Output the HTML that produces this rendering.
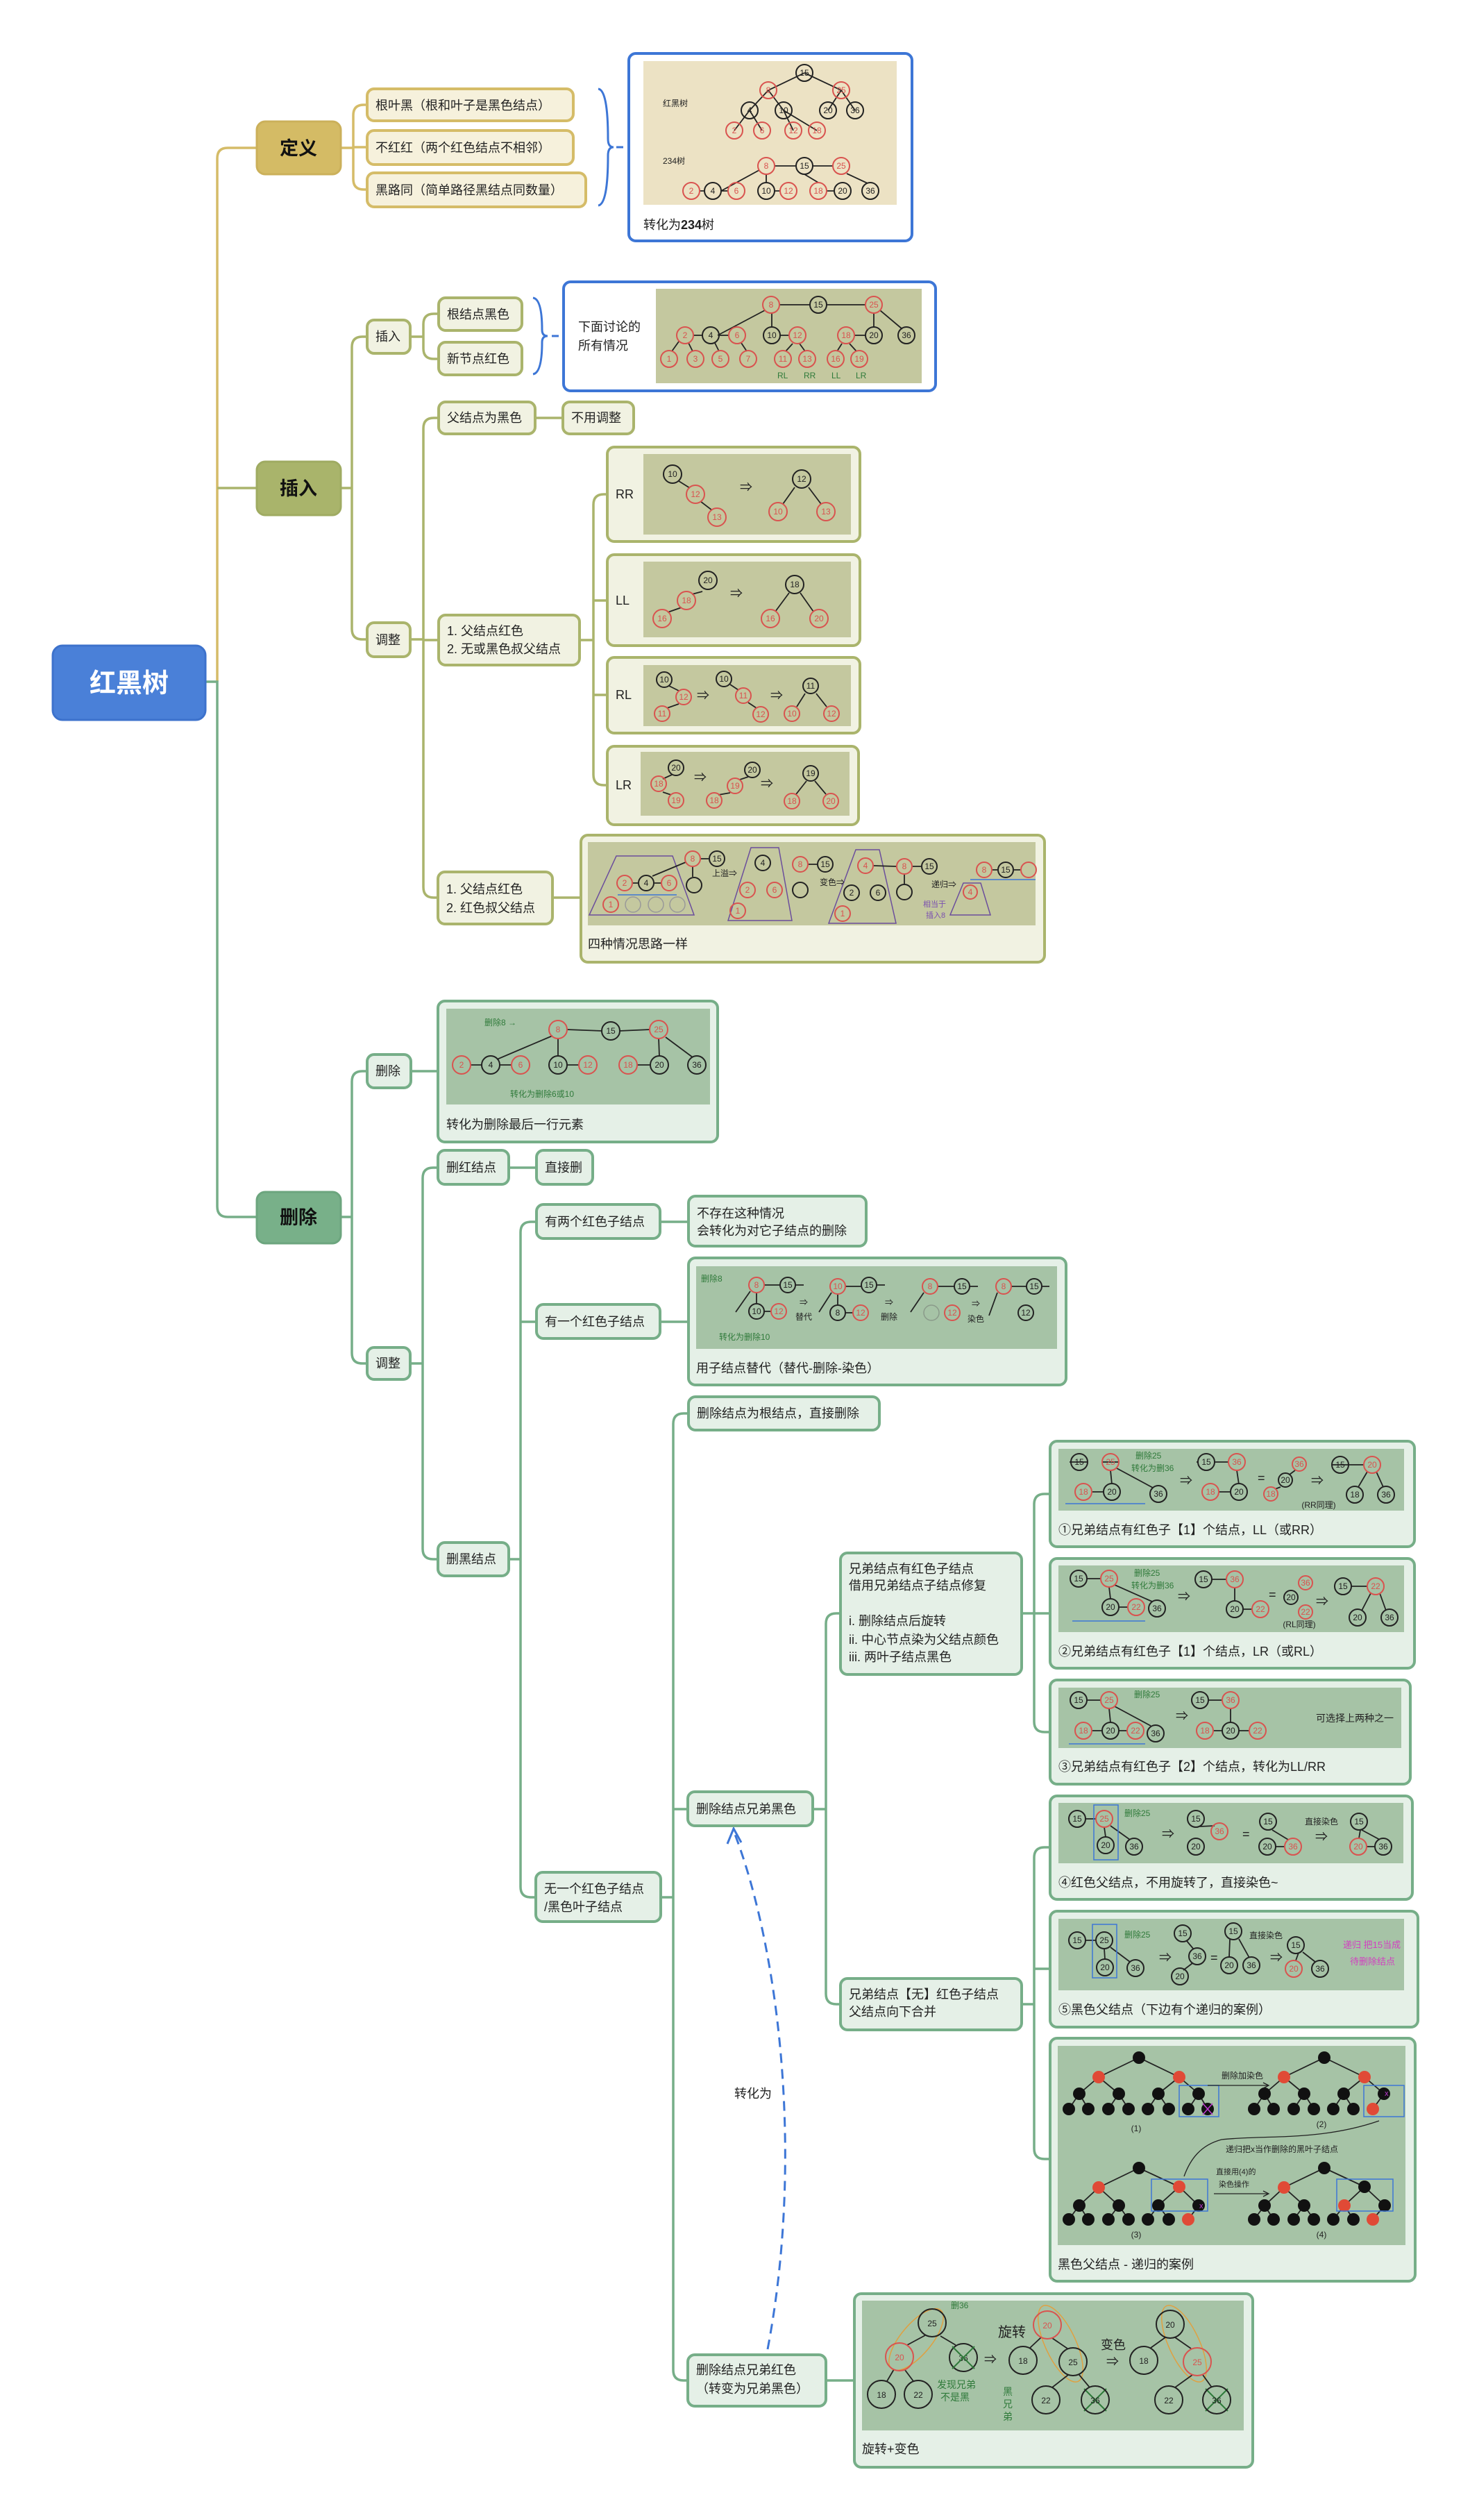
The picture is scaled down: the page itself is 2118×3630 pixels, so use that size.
<!DOCTYPE html>
<html><head><meta charset="utf-8">
<style>
html,body{margin:0;padding:0;background:#fff;}
svg{display:block;font-family:"Liberation Sans","Noto Sans CJK SC",sans-serif;}
.cy{fill:none;stroke:#d5bc68;stroke-width:3.5}
.co{fill:none;stroke:#aab46c;stroke-width:3.5}
.cg{fill:none;stroke:#76ae88;stroke-width:3.5}
.by{fill:#f6f1dc;stroke:#d5bc68;stroke-width:4}
.bo{fill:#f1f2e2;stroke:#aab46c;stroke-width:4}
.bg{fill:#e5f0e7;stroke:#76ae88;stroke-width:4}
.bb{fill:#fff;stroke:#3d76d6;stroke-width:4}
.l{font-size:18px;fill:#222}
.m{font-size:27px;font-weight:bold;fill:#111;text-anchor:middle}
.k{fill:none;stroke:#222;stroke-width:2}
.r{fill:none;stroke:#d9534f;stroke-width:2}
.n{font-size:12px;fill:#222;text-anchor:middle}
.nr{font-size:12px;fill:#d9534f;text-anchor:middle}
.e{stroke:#222;stroke-width:1.8;fill:none}
.gt{font-size:12px;fill:#2f7a3a}
.ar{font-size:18px;fill:#222}
.fk{fill:#111}
.fr{fill:#e04a36}
.bl{fill:none;stroke:#3d76d6;stroke-width:1.5}
</style></head><body>
<svg width="2118" height="3630" viewBox="0 0 2118 3630" xmlns="http://www.w3.org/2000/svg">
<!-- connectors -->
<path class="cy" d="M313,982 L313,228 Q313,213 328,213 L370,213"/>
<path class="co" d="M313,703 L370,703"/>
<path class="cg" d="M296,982 L313,982 L313,1738 Q313,1753 328,1753 L370,1753"/>
<path class="cy" d="M491,213 L509,213 M529,151 L524,151 Q509,151 509,166 L509,258 Q509,273 524,273 L529,273 M509,212 L529,212"/>
<path fill="none" stroke="#3d76d6" stroke-width="3" d="M862,128 Q876,130 876,200 Q876,212 884,212 Q876,212 876,224 Q876,294 862,296 M888,212 L898,212"/>
<path class="co" d="M491,703 L507,703 M529,485 L522,485 Q507,485 507,500 L507,906 Q507,921 522,921 L529,921"/>
<path class="co" d="M591,485 L610,485 M632,452 L625,452 Q610,452 610,467 L610,502 Q610,517 625,517 L632,517"/>
<path fill="none" stroke="#3d76d6" stroke-width="3" d="M768,429 Q781,431 781,475 Q781,484 789,484 Q781,484 781,493 Q781,537 768,539 M795,484 L805,484"/>
<path class="co" d="M591,921 L610,921 M632,602 L625,602 Q610,602 610,617 L610,1278 Q610,1293 625,1293 L631,1293 M610,922 L632,922 M771,602 L811,602"/>
<path class="co" d="M835,922 L855,922 M875,712 L870,712 Q855,712 855,727 L855,1116 Q855,1131 870,1131 L875,1131 M855,865 L875,865 M855,1001 L875,1001 M796,1293 L837,1293"/>
<path class="cg" d="M491,1753 L507,1753 M529,1543 L522,1543 Q507,1543 507,1558 L507,1949 Q507,1964 522,1964 L529,1964 M592,1543 L631,1543"/>
<path class="cg" d="M591,1964 L609,1964 M631,1682 L624,1682 Q609,1682 609,1697 L609,2231 Q609,2246 624,2246 L631,2246 M733,1682 L773,1682"/>
<path class="cg" d="M733,2246 L750,2246 M773,1760 L765,1760 Q750,1760 750,1775 L750,2718 Q750,2733 765,2733 L772,2733 M750,1904 L773,1904 M951,1760 L992,1760 M951,1904 L992,1904"/>
<path class="cg" d="M952,2733 L970,2733 M992,2036 L985,2036 Q970,2036 970,2051 L970,3414 Q970,3429 985,3429 L991,3429 M970,2606 L991,2606"/>
<path class="cg" d="M1171,2606 L1190,2606 M1211,2324 L1205,2324 Q1190,2324 1190,2339 L1190,2872 Q1190,2887 1205,2887 L1211,2887 M1190,3429 L1231,3429"/>
<path class="cg" d="M1472,2324 L1490,2324 M1513,2152 L1505,2152 Q1490,2152 1490,2167 L1490,2480 Q1490,2495 1505,2495 L1513,2495 M1490,2324 L1513,2324"/>
<path class="cg" d="M1472,2887 L1490,2887 M1513,2661 L1505,2661 Q1490,2661 1490,2676 L1490,3095 Q1490,3110 1505,3110 L1513,3110 M1490,2836 L1513,2836"/>
<!-- dashed -->
<path d="M1106,3384 C1160,3100 1120,2800 1058,2640" fill="none" stroke="#3d76d6" stroke-width="3" stroke-dasharray="14,9"/>
<path d="M1048,2656 L1057,2634 L1068,2654" fill="none" stroke="#3d76d6" stroke-width="3"/>
<text x="1058" y="3022" class="l">转化为</text>

<!-- root & main -->
<rect x="76" y="930" width="220" height="107" rx="14" fill="#4a80d8" stroke="#3d72cc" stroke-width="3"/>
<text x="186" y="997" font-size="38" font-weight="bold" fill="#fff" text-anchor="middle">红黑树</text>
<rect x="370" y="175" width="121" height="76" rx="12" fill="#d4bb65" stroke="#cbb05a" stroke-width="3"/>
<text x="430" y="223" class="m">定义</text>
<rect x="370" y="665" width="121" height="77" rx="12" fill="#a9b46b" stroke="#9fab62" stroke-width="3"/>
<text x="430" y="713" class="m">插入</text>
<rect x="370" y="1717" width="121" height="74" rx="12" fill="#78b089" stroke="#6ca57e" stroke-width="3"/>
<text x="430" y="1763" class="m">删除</text>

<!-- define -->
<rect class="by" x="529" y="128" width="297" height="46" rx="10"/><text class="l" x="541" y="158">根叶黑（根和叶子是黑色结点）</text>
<rect class="by" x="529" y="188" width="297" height="49" rx="10"/><text class="l" x="541" y="219">不红红（两个红色结点不相邻）</text>
<rect class="by" x="529" y="249" width="315" height="49" rx="10"/><text class="l" x="541" y="280">黑路同（简单路径黑结点同数量）</text>
<rect class="bb" x="906" y="77" width="408" height="270" rx="10"/>
<rect x="927" y="88" width="365" height="207" fill="#ece2c4"/>
<text x="927" y="330" class="l">转化为<tspan font-weight="bold">234</tspan>树</text>
<text x="955" y="153" class="n" text-anchor="start" style="text-anchor:start">红黑树</text>
<text x="955" y="236" class="n" style="text-anchor:start">234树</text>
<g>
<path class="e" d="M1159,105 L1107,130 M1159,105 L1212,130 M1107,130 L1080,159 M1107,130 L1129,159 M1212,130 L1193,159 M1212,130 L1232,159 M1080,159 L1058,188 M1080,159 L1098,188 M1129,159 L1143,188 M1129,159 L1177,188"/>
<circle class="k" cx="1159" cy="105" r="12" fill="#ece2c4"/><text class="n" x="1159" y="109">15</text>
<circle class="r" cx="1107" cy="130" r="12"/><text class="nr" x="1107" y="134">8</text>
<circle class="r" cx="1212" cy="130" r="12"/><text class="nr" x="1212" y="134">25</text>
<circle class="k" cx="1080" cy="159" r="12"/><text class="n" x="1080" y="163">4</text>
<circle class="k" cx="1129" cy="159" r="12"/><text class="n" x="1129" y="163">10</text>
<circle class="k" cx="1193" cy="159" r="12"/><text class="n" x="1193" y="163">20</text>
<circle class="k" cx="1232" cy="159" r="12"/><text class="n" x="1232" y="163">36</text>
<circle class="r" cx="1058" cy="188" r="12"/><text class="nr" x="1058" y="192">2</text>
<circle class="r" cx="1098" cy="188" r="12"/><text class="nr" x="1098" y="192">6</text>
<circle class="r" cx="1143" cy="188" r="12"/><text class="nr" x="1143" y="192">12</text>
<circle class="r" cx="1177" cy="188" r="12"/><text class="nr" x="1177" y="192">18</text>
<path class="e" d="M1116,239 L1147,239 M1171,239 L1200,239 M1094,245 L1039,275 M1104,251 L1104,263 M1159,251 L1179,263 M1220,250 L1250,264 M1008,275 L1015,275 M1039,275 L1049,275 M1116,275 L1124,275 M1191,275 L1202,275"/>
<circle class="r" cx="1104" cy="239" r="12"/><text class="nr" x="1104" y="243">8</text>
<circle class="k" cx="1159" cy="239" r="12"/><text class="n" x="1159" y="243">15</text>
<circle class="r" cx="1212" cy="239" r="12"/><text class="nr" x="1212" y="243">25</text>
<circle class="r" cx="996" cy="275" r="12"/><text class="nr" x="996" y="279">2</text>
<circle class="k" cx="1027" cy="275" r="12"/><text class="n" x="1027" y="279">4</text>
<circle class="r" cx="1061" cy="275" r="12"/><text class="nr" x="1061" y="279">6</text>
<circle class="k" cx="1104" cy="275" r="12"/><text class="n" x="1104" y="279">10</text>
<circle class="r" cx="1136" cy="275" r="12"/><text class="nr" x="1136" y="279">12</text>
<circle class="r" cx="1179" cy="275" r="12"/><text class="nr" x="1179" y="279">18</text>
<circle class="k" cx="1214" cy="275" r="12"/><text class="n" x="1214" y="279">20</text>
<circle class="k" cx="1254" cy="275" r="12"/><text class="n" x="1254" y="279">36</text>
</g>

<!-- insert -->
<rect class="bo" x="529" y="461" width="62" height="48" rx="10"/><text class="l" x="541" y="491">插入</text>
<rect class="bo" x="529" y="897" width="62" height="49" rx="10"/><text class="l" x="541" y="928">调整</text>
<rect class="bo" x="632" y="429" width="120" height="47" rx="10"/><text class="l" x="644" y="459">根结点黑色</text>
<rect class="bo" x="632" y="493" width="120" height="47" rx="10"/><text class="l" x="644" y="523">新节点红色</text>
<rect class="bb" x="812" y="406" width="536" height="157" rx="10"/>
<rect x="945" y="416" width="383" height="136" fill="#c4c89f"/>
<text class="l" x="833" y="477">下面讨论的</text><text class="l" x="833" y="504">所有情况</text>
<g>
<path class="e" d="M1123,439 L1167,439 M1191,439 L1247,439 M1102,447 L1034,483 M1112,451 L1112,471 M1259,451 L1259,471 M1268,447 L1300,474 M999,483 L1012,483 M1036,483 L1050,483 M1124,483 L1137,483 M1231,483 L1247,483 M978,492 L968,506 M992,494 L998,506 M1030,494 L1036,506 M1068,494 L1076,506 M1142,495 L1132,506 M1152,495 L1160,506 M1213,495 L1206,506 M1224,495 L1234,506"/>
<circle class="r" cx="1111" cy="439" r="12"/><text class="nr" x="1111" y="443">8</text>
<circle class="k" cx="1179" cy="439" r="12"/><text class="n" x="1179" y="443">15</text>
<circle class="r" cx="1259" cy="439" r="12"/><text class="nr" x="1259" y="443">25</text>
<circle class="r" cx="987" cy="483" r="12"/><text class="nr" x="987" y="487">2</text>
<circle class="k" cx="1024" cy="483" r="12"/><text class="n" x="1024" y="487">4</text>
<circle class="r" cx="1062" cy="483" r="12"/><text class="nr" x="1062" y="487">6</text>
<circle class="k" cx="1112" cy="483" r="12"/><text class="n" x="1112" y="487">10</text>
<circle class="r" cx="1149" cy="483" r="12"/><text class="nr" x="1149" y="487">12</text>
<circle class="r" cx="1219" cy="483" r="12"/><text class="nr" x="1219" y="487">18</text>
<circle class="k" cx="1259" cy="483" r="12"/><text class="n" x="1259" y="487">20</text>
<circle class="k" cx="1306" cy="483" r="12"/><text class="n" x="1306" y="487">36</text>
<circle class="r" cx="964" cy="517" r="12"/><text class="nr" x="964" y="521">1</text>
<circle class="r" cx="1002" cy="517" r="12"/><text class="nr" x="1002" y="521">3</text>
<circle class="r" cx="1038" cy="517" r="12"/><text class="nr" x="1038" y="521">5</text>
<circle class="r" cx="1078" cy="517" r="12"/><text class="nr" x="1078" y="521">7</text>
<circle class="r" cx="1128" cy="517" r="12"/><text class="nr" x="1128" y="521">11</text>
<circle class="r" cx="1163" cy="517" r="12"/><text class="nr" x="1163" y="521">13</text>
<circle class="r" cx="1204" cy="517" r="12"/><text class="nr" x="1204" y="521">16</text>
<circle class="r" cx="1238" cy="517" r="12"/><text class="nr" x="1238" y="521">19</text>
<text class="gt" x="1120" y="545">RL</text><text class="gt" x="1158" y="545">RR</text><text class="gt" x="1198" y="545">LL</text><text class="gt" x="1233" y="545">LR</text>
</g>
<rect class="bo" x="632" y="579" width="139" height="46" rx="10"/><text class="l" x="644" y="608">父结点为黑色</text>
<rect class="bo" x="811" y="579" width="102" height="46" rx="10"/><text class="l" x="823" y="608">不用调整</text>
<rect class="bo" x="632" y="886" width="203" height="72" rx="10"/><text class="l" x="644" y="915">1. 父结点红色</text><text class="l" x="644" y="941">2. 无或黑色叔父结点</text>
<rect class="bo" x="875" y="644" width="364" height="136" rx="10"/><rect x="927" y="654" width="299" height="116" fill="#c4c89f"/><text class="l" x="887" y="718">RR</text>
<rect class="bo" x="875" y="799" width="364" height="131" rx="10"/><rect x="927" y="809" width="299" height="109" fill="#c4c89f"/><text class="l" x="887" y="871">LL</text>
<rect class="bo" x="875" y="947" width="364" height="109" rx="10"/><rect x="927" y="958" width="299" height="88" fill="#c4c89f"/><text class="l" x="887" y="1007">RL</text>
<rect class="bo" x="875" y="1075" width="362" height="113" rx="10"/><rect x="923" y="1083" width="301" height="92" fill="#c4c89f"/><text class="l" x="887" y="1137">LR</text>
<g>
<path class="e" d="M978,693 L994,703 M1009,722 L1026,735 M1145,702 L1128,726 M1165,702 L1183,726 M1012,852 L997,856 M982,875 L962,882 M1137,854 L1117,881 M1153,854 L1172,881 M964,988 L978,995 M978,1014 L961,1020 M1052,986 L1064,994 M1078,1012 L1090,1020 M1160,999 L1148,1018 M1176,999 L1191,1018 M968,1116 L955,1122 M955,1141 L967,1145 M1078,1119 L1066,1123 M1052,1142 L1035,1145 M1162,1125 L1147,1144 M1174,1125 L1190,1144"/>
<circle class="k" cx="969" cy="683" r="13"/><text class="n" x="969" y="687">10</text>
<circle class="r" cx="1002" cy="712" r="13"/><text class="nr" x="1002" y="716">12</text>
<circle class="r" cx="1033" cy="745" r="13"/><text class="nr" x="1033" y="749">13</text>
<text class="ar" x="1066" y="708">⇒</text>
<circle class="k" cx="1155" cy="690" r="13"/><text class="n" x="1155" y="694">12</text>
<circle class="r" cx="1121" cy="737" r="13"/><text class="nr" x="1121" y="741">10</text>
<circle class="r" cx="1190" cy="737" r="13"/><text class="nr" x="1190" y="741">13</text>
<circle class="k" cx="1020" cy="836" r="13"/><text class="n" x="1020" y="840">20</text>
<circle class="r" cx="989" cy="865" r="13"/><text class="nr" x="989" y="869">18</text>
<circle class="r" cx="954" cy="891" r="13"/><text class="nr" x="954" y="895">16</text>
<text class="ar" x="1052" y="861">⇒</text>
<circle class="k" cx="1145" cy="842" r="13"/><text class="n" x="1145" y="846">18</text>
<circle class="r" cx="1110" cy="891" r="13"/><text class="nr" x="1110" y="895">16</text>
<circle class="r" cx="1180" cy="891" r="13"/><text class="nr" x="1180" y="895">20</text>
<circle class="k" cx="957" cy="979" r="11"/><text class="n" x="957" y="983">10</text>
<circle class="r" cx="985" cy="1004" r="11"/><text class="nr" x="985" y="1008">12</text>
<circle class="r" cx="954" cy="1028" r="11"/><text class="nr" x="954" y="1032">11</text>
<text class="ar" x="1004" y="1008">⇒</text>
<circle class="k" cx="1043" cy="978" r="11"/><text class="n" x="1043" y="982">10</text>
<circle class="r" cx="1071" cy="1002" r="11"/><text class="nr" x="1071" y="1006">11</text>
<circle class="r" cx="1096" cy="1029" r="11"/><text class="nr" x="1096" y="1033">12</text>
<text class="ar" x="1110" y="1008">⇒</text>
<circle class="k" cx="1168" cy="988" r="11"/><text class="n" x="1168" y="992">11</text>
<circle class="r" cx="1141" cy="1028" r="11"/><text class="nr" x="1141" y="1032">10</text>
<circle class="r" cx="1198" cy="1028" r="11"/><text class="nr" x="1198" y="1032">12</text>
<circle class="k" cx="974" cy="1106" r="11"/><text class="n" x="974" y="1110">20</text>
<circle class="r" cx="949" cy="1129" r="11"/><text class="nr" x="949" y="1133">18</text>
<circle class="r" cx="974" cy="1153" r="11"/><text class="nr" x="974" y="1157">19</text>
<text class="ar" x="1000" y="1126">⇒</text>
<circle class="k" cx="1084" cy="1109" r="11"/><text class="n" x="1084" y="1113">20</text>
<circle class="r" cx="1059" cy="1132" r="11"/><text class="nr" x="1059" y="1136">19</text>
<circle class="r" cx="1029" cy="1153" r="11"/><text class="nr" x="1029" y="1157">18</text>
<text class="ar" x="1096" y="1135">⇒</text>
<circle class="k" cx="1168" cy="1114" r="11"/><text class="n" x="1168" y="1118">19</text>
<circle class="r" cx="1141" cy="1154" r="11"/><text class="nr" x="1141" y="1158">18</text>
<circle class="r" cx="1197" cy="1154" r="11"/><text class="nr" x="1197" y="1158">20</text>
</g>
<rect class="bo" x="631" y="1256" width="165" height="75" rx="10"/><text class="l" x="643" y="1287">1. 父结点红色</text><text class="l" x="643" y="1314">2. 红色叔父结点</text>
<rect class="bo" x="837" y="1203" width="668" height="183" rx="10"/>
<rect x="847" y="1213" width="645" height="120" fill="#c4c89f"/>
<text class="l" x="847" y="1366">四种情况思路一样</text>
<g>
<path fill="none" stroke="#6b4e9c" stroke-width="1.5" d="M888,1233 L969,1233 L1000,1318 L849,1318 Z M1082,1221 L1122,1221 L1141,1326 L1049,1326 Z M1233,1224 L1267,1224 L1291,1330 L1194,1330 Z M1388,1272 L1413,1272 L1427,1318 L1369,1318 Z"/>
<path class="bl" d="M890,1289 L975,1289 M1398,1267 L1492,1267"/>
<path class="e" d="M912,1272 L919,1272 M943,1272 L952,1272 M940,1262 L988,1242 M1010,1237 L1021,1237 M998,1249 L998,1263 M1165,1245 L1177,1245 M1315,1248 L1327,1248 M1259,1247 L1291,1248 M1303,1260 L1303,1273 M1430,1253 L1437,1253 M1461,1253 L1470,1253"/>
<circle class="r" cx="900" cy="1272" r="11"/><text class="nr" x="900" y="1276">2</text>
<circle class="k" cx="931" cy="1272" r="11"/><text class="n" x="931" y="1276">4</text>
<circle class="r" cx="964" cy="1272" r="11"/><text class="nr" x="964" y="1276">6</text>
<circle class="r" cx="998" cy="1237" r="11"/><text class="nr" x="998" y="1241">8</text>
<circle class="k" cx="1033" cy="1237" r="11"/><text class="n" x="1033" y="1241">15</text>
<circle class="k" cx="1000" cy="1275" r="11"/>
<circle class="r" cx="880" cy="1303" r="11"/><text class="nr" x="880" y="1307">1</text>
<circle fill="none" stroke="#999" stroke-width="1.5" cx="912" cy="1303" r="11"/><circle fill="none" stroke="#999" stroke-width="1.5" cx="945" cy="1303" r="11"/><circle fill="none" stroke="#999" stroke-width="1.5" cx="976" cy="1303" r="11"/>
<text class="n" x="1044" y="1262">上溢⇒</text>
<circle class="k" cx="1099" cy="1243" r="11"/><text class="n" x="1099" y="1247">4</text>
<circle class="r" cx="1077" cy="1282" r="11"/><text class="nr" x="1077" y="1286">2</text>
<circle class="r" cx="1116" cy="1282" r="11"/><text class="nr" x="1116" y="1286">6</text>
<circle class="r" cx="1063" cy="1312" r="11"/><text class="nr" x="1063" y="1316">1</text>
<circle class="r" cx="1153" cy="1245" r="11"/><text class="nr" x="1153" y="1249">8</text>
<circle class="k" cx="1189" cy="1245" r="11"/><text class="n" x="1189" y="1249">15</text>
<circle class="k" cx="1153" cy="1282" r="11"/>
<text class="n" x="1199" y="1275">变色⇒</text>
<circle class="r" cx="1247" cy="1247" r="11"/><text class="nr" x="1247" y="1251">4</text>
<circle class="r" cx="1303" cy="1248" r="11"/><text class="nr" x="1303" y="1252">8</text>
<circle class="k" cx="1339" cy="1248" r="11"/><text class="n" x="1339" y="1252">15</text>
<circle class="k" cx="1227" cy="1286" r="11"/><text class="n" x="1227" y="1290">2</text>
<circle class="k" cx="1265" cy="1286" r="11"/><text class="n" x="1265" y="1290">6</text>
<circle class="k" cx="1303" cy="1285" r="11"/>
<circle class="r" cx="1214" cy="1316" r="11"/><text class="nr" x="1214" y="1320">1</text>
<text class="n" x="1360" y="1278">递归⇒</text>
<text x="1330" y="1306" font-size="11" fill="#7a4fb0">相当于</text><text x="1334" y="1322" font-size="11" fill="#7a4fb0">插入8</text>
<circle class="r" cx="1398" cy="1285" r="10"/><text class="nr" x="1398" y="1289">4</text>
<circle class="r" cx="1418" cy="1253" r="11"/><text class="nr" x="1418" y="1257">8</text>
<circle class="k" cx="1449" cy="1253" r="11"/><text class="n" x="1449" y="1257">15</text>
<circle class="r" cx="1482" cy="1253" r="11"/>
</g>

<!-- delete -->
<rect class="bg" x="529" y="1519" width="63" height="48" rx="10"/><text class="l" x="541" y="1549">删除</text>
<rect class="bg" x="529" y="1941" width="62" height="46" rx="10"/><text class="l" x="541" y="1970">调整</text>
<rect class="bg" x="631" y="1442" width="403" height="203" rx="10"/>
<rect x="643" y="1453" width="380" height="138" fill="#a6c3a6"/>
<text class="l" x="643" y="1626">转化为删除最后一行元素</text>
<g>
<path class="e" d="M816,1483 L868,1485 M892,1485 L937,1483 M796,1492 L716,1526 M677,1534 L695,1534 M719,1534 L738,1534 M804,1495 L804,1522 M816,1534 L835,1534 M917,1534 L938,1534 M959,1494 L998,1523 M949,1495 L950,1522"/>
<circle class="r" cx="804" cy="1483" r="13"/><text class="nr" x="804" y="1487">8</text>
<circle class="k" cx="880" cy="1485" r="13"/><text class="n" x="880" y="1489">15</text>
<circle class="r" cx="949" cy="1483" r="13"/><text class="nr" x="949" y="1487">25</text>
<circle class="r" cx="665" cy="1534" r="13"/><text class="nr" x="665" y="1538">2</text>
<circle class="k" cx="707" cy="1534" r="13"/><text class="n" x="707" y="1538">4</text>
<circle class="r" cx="750" cy="1534" r="13"/><text class="nr" x="750" y="1538">6</text>
<circle class="k" cx="804" cy="1534" r="13"/><text class="n" x="804" y="1538">10</text>
<circle class="r" cx="847" cy="1534" r="13"/><text class="nr" x="847" y="1538">12</text>
<circle class="r" cx="905" cy="1534" r="13"/><text class="nr" x="905" y="1538">18</text>
<circle class="k" cx="950" cy="1534" r="13"/><text class="n" x="950" y="1538">20</text>
<circle class="k" cx="1004" cy="1534" r="13"/><text class="n" x="1004" y="1538">36</text>
<text class="gt" x="698" y="1477">删除8 →</text>
<text class="gt" x="735" y="1580">转化为删除6或10</text>
</g>
<rect class="bg" x="631" y="1657" width="102" height="49" rx="10"/><text class="l" x="643" y="1688">删红结点</text>
<rect class="bg" x="773" y="1657" width="81" height="49" rx="10"/><text class="l" x="785" y="1688">直接删</text>
<rect class="bg" x="631" y="2222" width="102" height="48" rx="10"/><text class="l" x="643" y="2252">删黑结点</text>
<rect class="bg" x="773" y="1735" width="178" height="49" rx="10"/><text class="l" x="785" y="1766">有两个红色子结点</text>
<rect class="bg" x="992" y="1723" width="256" height="72" rx="10"/><text class="l" x="1004" y="1754">不存在这种情况</text><text class="l" x="1004" y="1779">会转化为对它子结点的删除</text>
<rect class="bg" x="773" y="1879" width="178" height="49" rx="10"/><text class="l" x="785" y="1910">有一个红色子结点</text>
<rect class="bg" x="992" y="1812" width="544" height="183" rx="10"/>
<rect x="1003" y="1824" width="520" height="119" fill="#a6c3a6"/>
<text class="l" x="1003" y="1977">用子结点替代（替代-删除-染色）</text>
<g>
<path class="e" d="M1101,1851 L1124,1851 M1146,1851 L1158,1851 M1081,1860 L1060,1890 M1090,1863 L1090,1877 M1101,1889 L1111,1889 M1218,1853 L1241,1853 M1263,1851 L1275,1851 M1198,1862 L1180,1890 M1207,1865 L1207,1879 M1218,1891 L1229,1891 M1351,1853 L1375,1853 M1397,1853 L1409,1853 M1331,1862 L1312,1890 M1457,1853 L1479,1853 M1501,1853 L1512,1853 M1437,1862 L1425,1895"/>
<circle class="r" cx="1090" cy="1851" r="11"/><text class="nr" x="1090" y="1855">8</text>
<circle class="k" cx="1135" cy="1851" r="11"/><text class="n" x="1135" y="1855">15</text>
<circle class="k" cx="1090" cy="1889" r="11"/><text class="n" x="1090" y="1893">10</text>
<circle class="r" cx="1122" cy="1889" r="11"/><text class="nr" x="1122" y="1893">12</text>
<text class="n" x="1158" y="1880">⇒</text><text class="n" x="1158" y="1901">替代</text>
<circle class="r" cx="1207" cy="1853" r="11"/><text class="nr" x="1207" y="1857">10</text>
<circle class="k" cx="1252" cy="1851" r="11"/><text class="n" x="1252" y="1855">15</text>
<circle class="k" cx="1207" cy="1891" r="11"/><text class="n" x="1207" y="1895">8</text>
<circle class="r" cx="1240" cy="1891" r="11"/><text class="nr" x="1240" y="1895">12</text>
<text class="n" x="1281" y="1880">⇒</text><text class="n" x="1281" y="1901">删除</text>
<circle class="r" cx="1340" cy="1853" r="11"/><text class="nr" x="1340" y="1857">8</text>
<circle class="k" cx="1386" cy="1853" r="11"/><text class="n" x="1386" y="1857">15</text>
<circle fill="none" stroke="#8a9a8a" stroke-width="1.5" cx="1342" cy="1891" r="11"/>
<circle class="r" cx="1372" cy="1891" r="11"/><text class="nr" x="1372" y="1895">12</text>
<text class="n" x="1406" y="1882">⇒</text><text class="n" x="1406" y="1904">染色</text>
<circle class="r" cx="1446" cy="1853" r="11"/><text class="nr" x="1446" y="1857">8</text>
<circle class="k" cx="1490" cy="1853" r="11"/><text class="n" x="1490" y="1857">15</text>
<circle class="k" cx="1478" cy="1891" r="11"/><text class="n" x="1478" y="1895">12</text>
<text class="gt" x="1010" y="1846" font-size="10">删除8</text>
<text class="gt" x="1036" y="1930" font-size="10">转化为删除10</text>
</g>
<rect class="bg" x="772" y="2697" width="180" height="71" rx="10"/><text class="l" x="784" y="2727">无一个红色子结点</text><text class="l" x="784" y="2753">/黑色叶子结点</text>
<rect class="bg" x="992" y="2012" width="275" height="48" rx="10"/><text class="l" x="1004" y="2042">删除结点为根结点，直接删除</text>
<rect class="bg" x="991" y="2581" width="180" height="49" rx="10"/><text class="l" x="1003" y="2612">删除结点兄弟黑色</text>
<rect class="bg" x="991" y="3392" width="199" height="74" rx="10"/><text class="l" x="1003" y="3420">删除结点兄弟红色</text><text class="l" x="1003" y="3447">（转变为兄弟黑色）</text>
<rect class="bg" x="1211" y="2237" width="261" height="175" rx="10"/>
<text class="l" x="1223" y="2266">兄弟结点有红色子结点</text><text class="l" x="1223" y="2290">借用兄弟结点子结点修复</text>
<text class="l" x="1223" y="2341">i. 删除结点后旋转</text><text class="l" x="1223" y="2368">ii. 中心节点染为父结点颜色</text><text class="l" x="1223" y="2393">iii. 两叶子结点黑色</text>
<rect class="bg" x="1211" y="2850" width="261" height="74" rx="10"/><text class="l" x="1223" y="2879">兄弟结点【无】红色子结点</text><text class="l" x="1223" y="2904">父结点向下合并</text>

<!-- case boxes -->
<rect class="bg" x="1513" y="2076" width="525" height="152" rx="10"/><rect x="1525" y="2087" width="498" height="89" fill="#a6c3a6"/><text class="l" x="1525" y="2210">①兄弟结点有红色子【1】个结点，LL（或RR）</text>
<rect class="bg" x="1513" y="2245" width="525" height="158" rx="10"/><rect x="1525" y="2255" width="498" height="96" fill="#a6c3a6"/><text class="l" x="1525" y="2385">②兄弟结点有红色子【1】个结点，LR（或RL）</text>
<rect class="bg" x="1513" y="2420" width="519" height="150" rx="10"/><rect x="1525" y="2431" width="494" height="87" fill="#a6c3a6"/><text class="l" x="1525" y="2551">③兄弟结点有红色子【2】个结点，转化为LL/RR</text>
<rect class="bg" x="1513" y="2587" width="522" height="149" rx="10"/><rect x="1525" y="2597" width="497" height="87" fill="#a6c3a6"/><text class="l" x="1525" y="2718">④红色父结点，不用旋转了，直接染色~</text>
<rect class="bg" x="1513" y="2753" width="530" height="167" rx="10"/><rect x="1525" y="2764" width="498" height="103" fill="#a6c3a6"/><text class="l" x="1525" y="2901">⑤黑色父结点（下边有个递归的案例）</text>
<rect class="bg" x="1513" y="2936" width="526" height="350" rx="10"/><rect x="1524" y="2947" width="501" height="287" fill="#a6c3a6"/><text class="l" x="1524" y="3268">黑色父结点 - 递归的案例</text>
<rect class="bg" x="1231" y="3304" width="574" height="250" rx="10"/><rect x="1242" y="3314" width="550" height="187" fill="#a6c3a6"/><text class="l" x="1242" y="3534">旋转+变色</text>

<!-- case 1 -->
<g>
<path class="e" d="M1541,2106 L1566,2106 M1589,2106 L1611,2106 M1600,2118 L1602,2138 M1572,2149 L1591,2149 M1609,2115 L1661,2143 M1724,2106 L1727,2106 M1749,2106 L1771,2106 M1782,2118 L1785,2138 M1755,2149 L1774,2149 M1866,2118 L1858,2124 M1845,2142 L1837,2145 M1920,2110 L1966,2110 M1970,2120 L1957,2142 M1983,2120 L1993,2142"/>
<circle class="k" cx="1555" cy="2106" r="12"/><text class="n" x="1555" y="2110">15</text>
<circle class="r" cx="1600" cy="2106" r="12"/><text class="nr" x="1600" y="2110">25</text>
<circle class="r" cx="1561" cy="2149" r="12"/><text class="nr" x="1561" y="2153">18</text>
<circle class="k" cx="1602" cy="2149" r="12"/><text class="n" x="1602" y="2153">20</text>
<circle class="k" cx="1669" cy="2152" r="12"/><text class="n" x="1669" y="2156">36</text>
<text class="gt" x="1636" y="2101">删除25</text><text class="gt" x="1630" y="2119" font-size="10">转化为删36</text>
<path d="M1535,2166 L1650,2166" stroke="#3d76d6" stroke-width="1.5"/>
<text class="ar" x="1700" y="2139">⇒</text>
<circle class="k" cx="1738" cy="2106" r="12"/><text class="n" x="1738" y="2110">15</text>
<circle class="r" cx="1782" cy="2106" r="12"/><text class="nr" x="1782" y="2110">36</text>
<circle class="r" cx="1744" cy="2149" r="12"/><text class="nr" x="1744" y="2153">18</text>
<circle class="k" cx="1785" cy="2149" r="12"/><text class="n" x="1785" y="2153">20</text>
<text class="ar" x="1812" y="2135">=</text>
<circle class="r" cx="1872" cy="2109" r="10"/><text class="nr" x="1872" y="2113">36</text>
<circle class="k" cx="1852" cy="2132" r="10"/><text class="n" x="1852" y="2136">20</text>
<circle class="r" cx="1831" cy="2152" r="10"/><text class="nr" x="1831" y="2156">18</text>
<text class="n" x="1900" y="2172" font-size="11">(RR同理)</text>
<text class="ar" x="1889" y="2139">⇒</text>
<circle class="k" cx="1931" cy="2110" r="12"/><text class="n" x="1931" y="2114">15</text>
<circle class="r" cx="1977" cy="2110" r="12"/><text class="nr" x="1977" y="2114">20</text>
<circle class="k" cx="1952" cy="2153" r="12"/><text class="n" x="1952" y="2157">18</text>
<circle class="k" cx="1997" cy="2153" r="12"/><text class="n" x="1997" y="2157">36</text>
</g>
<!-- case 2 -->
<g>
<path class="e" d="M1541,2274 L1542,2274 M1566,2274 L1586,2274 M1598,2286 L1600,2303 M1612,2315 L1625,2315 M1606,2283 L1660,2307 M1746,2275 L1767,2275 M1779,2287 L1779,2306 M1791,2318 L1804,2318 M1947,2285 L1970,2285 M1975,2295 L1962,2320 M1988,2295 L1997,2320"/>
<circle class="k" cx="1554" cy="2274" r="12"/><text class="n" x="1554" y="2278">15</text>
<circle class="r" cx="1598" cy="2274" r="12"/><text class="nr" x="1598" y="2278">25</text>
<circle class="k" cx="1600" cy="2315" r="12"/><text class="n" x="1600" y="2319">20</text>
<circle class="r" cx="1637" cy="2315" r="12"/><text class="nr" x="1637" y="2319">22</text>
<circle class="k" cx="1667" cy="2317" r="12"/><text class="n" x="1667" y="2321">36</text>
<text class="gt" x="1634" y="2270">删除25</text><text class="gt" x="1630" y="2288" font-size="10">转化为删36</text>
<path d="M1545,2335 L1650,2335" stroke="#3d76d6" stroke-width="1.5"/>
<text class="ar" x="1697" y="2306">⇒</text>
<circle class="k" cx="1734" cy="2275" r="12"/><text class="n" x="1734" y="2279">15</text>
<circle class="r" cx="1779" cy="2275" r="12"/><text class="nr" x="1779" y="2279">36</text>
<circle class="k" cx="1779" cy="2318" r="12"/><text class="n" x="1779" y="2322">20</text>
<circle class="r" cx="1816" cy="2318" r="12"/><text class="nr" x="1816" y="2322">22</text>
<text class="ar" x="1828" y="2303">=</text>
<circle class="r" cx="1881" cy="2280" r="10"/><text class="nr" x="1881" y="2284">36</text>
<circle class="k" cx="1860" cy="2301" r="10"/><text class="n" x="1860" y="2305">20</text>
<circle class="r" cx="1881" cy="2322" r="10"/><text class="nr" x="1881" y="2326">22</text>
<text class="n" x="1872" y="2344" font-size="11">(RL同理)</text>
<text class="ar" x="1896" y="2313">⇒</text>
<circle class="k" cx="1935" cy="2285" r="12"/><text class="n" x="1935" y="2289">15</text>
<circle class="r" cx="1982" cy="2285" r="12"/><text class="nr" x="1982" y="2289">22</text>
<circle class="k" cx="1956" cy="2330" r="12"/><text class="n" x="1956" y="2334">20</text>
<circle class="k" cx="2002" cy="2330" r="12"/><text class="n" x="2002" y="2334">36</text>
</g>
<!-- case 3 -->
<g>
<path class="e" d="M1566,2449 L1586,2449 M1598,2461 L1600,2481 M1573,2493 L1588,2493 M1612,2493 L1624,2493 M1606,2458 L1658,2486 M1741,2449 L1761,2449 M1773,2461 L1773,2481 M1748,2493 L1761,2493 M1785,2493 L1800,2493"/>
<circle class="k" cx="1554" cy="2449" r="12"/><text class="n" x="1554" y="2453">15</text>
<circle class="r" cx="1598" cy="2449" r="12"/><text class="nr" x="1598" y="2453">25</text>
<circle class="r" cx="1561" cy="2493" r="12"/><text class="nr" x="1561" y="2497">18</text>
<circle class="k" cx="1600" cy="2493" r="12"/><text class="n" x="1600" y="2497">20</text>
<circle class="r" cx="1636" cy="2493" r="12"/><text class="nr" x="1636" y="2497">22</text>
<circle class="k" cx="1665" cy="2497" r="12"/><text class="n" x="1665" y="2501">36</text>
<text class="gt" x="1634" y="2445">删除25</text>
<path d="M1540,2512 L1650,2512" stroke="#3d76d6" stroke-width="1.5"/>
<text class="ar" x="1694" y="2478">⇒</text>
<circle class="k" cx="1729" cy="2449" r="12"/><text class="n" x="1729" y="2453">15</text>
<circle class="r" cx="1773" cy="2449" r="12"/><text class="nr" x="1773" y="2453">36</text>
<circle class="r" cx="1736" cy="2493" r="12"/><text class="nr" x="1736" y="2497">18</text>
<circle class="k" cx="1773" cy="2493" r="12"/><text class="n" x="1773" y="2497">20</text>
<circle class="r" cx="1812" cy="2493" r="12"/><text class="nr" x="1812" y="2497">22</text>
<text x="1896" y="2480" font-size="14" fill="#222">可选择上两种之一</text>
</g>
<!-- case 4 -->
<g>
<path class="e" d="M1564,2620 L1579,2620 M1591,2632 L1593,2646 M1600,2630 L1628,2650 M1729,2631 L1750,2630 M1833,2636 L1856,2650 M1838,2660 L1851,2660 M1960,2636 L1958,2648 M1969,2660 L1981,2660 M1962,2636 L1988,2650"/>
<rect class="bl" x="1576" y="2600" width="35" height="79"/>
<circle class="k" cx="1552" cy="2620" r="12"/><text class="n" x="1552" y="2624">15</text>
<circle class="r" cx="1591" cy="2620" r="12"/><text class="nr" x="1591" y="2624">25</text>
<circle class="k" cx="1593" cy="2658" r="12"/><text class="n" x="1593" y="2662">20</text>
<circle class="k" cx="1634" cy="2660" r="12"/><text class="n" x="1634" y="2664">36</text>
<text class="gt" x="1620" y="2616">删除25</text>
<text class="ar" x="1674" y="2648">⇒</text>
<circle class="k" cx="1723" cy="2620" r="12"/><text class="n" x="1723" y="2624">15</text>
<circle class="r" cx="1757" cy="2638" r="12"/><text class="nr" x="1757" y="2642">36</text>
<circle class="k" cx="1723" cy="2660" r="12"/><text class="n" x="1723" y="2664">20</text>
<text class="ar" x="1790" y="2648">=</text>
<circle class="k" cx="1827" cy="2624" r="12"/><text class="n" x="1827" y="2628">15</text>
<circle class="k" cx="1826" cy="2660" r="12"/><text class="n" x="1826" y="2664">20</text>
<circle class="r" cx="1863" cy="2660" r="12"/><text class="nr" x="1863" y="2664">36</text>
<text x="1880" y="2628" font-size="12" fill="#222">直接染色</text><text class="ar" x="1895" y="2652">⇒</text>
<circle class="k" cx="1958" cy="2624" r="12"/><text class="n" x="1958" y="2628">15</text>
<circle class="r" cx="1957" cy="2660" r="12"/><text class="nr" x="1957" y="2664">20</text>
<circle class="k" cx="1993" cy="2660" r="12"/><text class="n" x="1993" y="2664">36</text>
</g>
<!-- case 5 -->
<g>
<path class="e" d="M1564,2795 L1579,2795 M1591,2807 L1592,2822 M1600,2805 L1628,2826 M1710,2796 L1720,2808 M1718,2828 L1705,2838 M1772,2794 L1771,2819 M1785,2793 L1800,2820 M1871,2813 L1867,2824 M1877,2812 L1895,2826"/>
<rect class="bl" x="1574" y="2772" width="35" height="77"/>
<circle class="k" cx="1552" cy="2795" r="12"/><text class="n" x="1552" y="2799">15</text>
<circle class="k" cx="1591" cy="2795" r="12"/><text class="n" x="1591" y="2799">25</text>
<circle class="k" cx="1592" cy="2834" r="12"/><text class="n" x="1592" y="2838">20</text>
<circle class="k" cx="1636" cy="2835" r="12"/><text class="n" x="1636" y="2839">36</text>
<text class="gt" x="1620" y="2791">删除25</text>
<text class="ar" x="1670" y="2826">⇒</text>
<circle class="k" cx="1704" cy="2785" r="12"/><text class="n" x="1704" y="2789">15</text>
<circle class="k" cx="1725" cy="2818" r="12"/><text class="n" x="1725" y="2822">36</text>
<circle class="k" cx="1700" cy="2847" r="12"/><text class="n" x="1700" y="2851">20</text>
<text class="ar" x="1744" y="2826">=</text>
<circle class="k" cx="1777" cy="2782" r="12"/><text class="n" x="1777" y="2786">15</text>
<circle class="k" cx="1771" cy="2831" r="12"/><text class="n" x="1771" y="2835">20</text>
<circle class="k" cx="1803" cy="2831" r="12"/><text class="n" x="1803" y="2835">36</text>
<text x="1800" y="2792" font-size="12" fill="#222">直接染色</text><text class="ar" x="1830" y="2826">⇒</text>
<circle class="k" cx="1867" cy="2802" r="12"/><text class="n" x="1867" y="2806">15</text>
<circle class="r" cx="1864" cy="2836" r="12"/><text class="nr" x="1864" y="2840">20</text>
<circle class="k" cx="1902" cy="2836" r="12"/><text class="n" x="1902" y="2840">36</text>
<text x="1935" y="2806" font-size="13" fill="#d23fc0">递归 把15当成</text>
<text x="1945" y="2830" font-size="13" fill="#d23fc0">待删除结点</text>
</g>
<!-- case 6 -->
<g>
<path class="e" d="M1641,2964 L1583,2992 M1641,2964 L1699,2992 M1583,2992 L1555,3016 M1583,2992 L1612,3016 M1699,2992 L1669,3016 M1699,2992 L1727,3016 M1555,3016 L1540,3038 M1555,3016 L1568,3038 M1612,3016 L1597,3038 M1612,3016 L1626,3038 M1669,3016 L1654,3038 M1669,3016 L1684,3038 M1727,3016 L1712,3038 M1727,3016 L1740,3038
M1908,2964 L1850,2992 M1908,2964 L1966,2992 M1850,2992 L1822,3016 M1850,2992 L1879,3016 M1966,2992 L1936,3016 M1966,2992 L1994,3016 M1822,3016 L1807,3038 M1822,3016 L1835,3038 M1879,3016 L1864,3038 M1879,3016 L1893,3038 M1936,3016 L1921,3038 M1936,3016 L1950,3038 M1994,3016 L1978,3038
M1641,3123 L1583,3151 M1641,3123 L1699,3150 M1583,3151 L1555,3177 M1583,3151 L1612,3177 M1699,3150 L1669,3177 M1699,3150 L1727,3177 M1555,3177 L1540,3197 M1555,3177 L1568,3197 M1612,3177 L1597,3197 M1612,3177 L1626,3197 M1669,3177 L1654,3197 M1669,3177 L1684,3197 M1727,3177 L1712,3197
M1908,3123 L1850,3151 M1908,3123 L1966,3150 M1850,3151 L1822,3177 M1850,3151 L1879,3177 M1966,3150 L1937,3177 M1966,3150 L1995,3177 M1822,3177 L1807,3197 M1822,3177 L1835,3197 M1879,3177 L1864,3197 M1879,3177 L1893,3197 M1937,3177 L1921,3197 M1937,3177 L1950,3197 M1995,3177 L1978,3197"/>
<g class="fk">
<circle cx="1641" cy="2964" r="9"/><circle cx="1555" cy="3016" r="9"/><circle cx="1612" cy="3016" r="9"/><circle cx="1669" cy="3016" r="9"/><circle cx="1727" cy="3016" r="9"/>
<circle cx="1540" cy="3038" r="9"/><circle cx="1568" cy="3038" r="9"/><circle cx="1597" cy="3038" r="9"/><circle cx="1626" cy="3038" r="9"/><circle cx="1654" cy="3038" r="9"/><circle cx="1684" cy="3038" r="9"/><circle cx="1712" cy="3038" r="9"/><circle cx="1740" cy="3038" r="9"/>
<circle cx="1908" cy="2964" r="9"/><circle cx="1822" cy="3016" r="9"/><circle cx="1879" cy="3016" r="9"/><circle cx="1936" cy="3016" r="9"/><circle cx="1994" cy="3016" r="9"/>
<circle cx="1807" cy="3038" r="9"/><circle cx="1835" cy="3038" r="9"/><circle cx="1864" cy="3038" r="9"/><circle cx="1893" cy="3038" r="9"/><circle cx="1921" cy="3038" r="9"/><circle cx="1950" cy="3038" r="9"/>
<circle cx="1641" cy="3123" r="9"/><circle cx="1555" cy="3177" r="9"/><circle cx="1612" cy="3177" r="9"/><circle cx="1669" cy="3177" r="9"/><circle cx="1727" cy="3177" r="9"/>
<circle cx="1540" cy="3197" r="9"/><circle cx="1568" cy="3197" r="9"/><circle cx="1597" cy="3197" r="9"/><circle cx="1626" cy="3197" r="9"/><circle cx="1654" cy="3197" r="9"/><circle cx="1684" cy="3197" r="9"/>
<circle cx="1908" cy="3123" r="9"/><circle cx="1966" cy="3150" r="9"/><circle cx="1822" cy="3177" r="9"/><circle cx="1879" cy="3177" r="9"/><circle cx="1995" cy="3177" r="9"/>
<circle cx="1807" cy="3197" r="9"/><circle cx="1835" cy="3197" r="9"/><circle cx="1864" cy="3197" r="9"/><circle cx="1893" cy="3197" r="9"/><circle cx="1921" cy="3197" r="9"/><circle cx="1950" cy="3197" r="9"/>
</g>
<g class="fr">
<circle cx="1583" cy="2992" r="9"/><circle cx="1699" cy="2992" r="9"/><circle cx="1850" cy="2992" r="9"/><circle cx="1966" cy="2992" r="9"/><circle cx="1978" cy="3038" r="9"/>
<circle cx="1583" cy="3151" r="9"/><circle cx="1699" cy="3150" r="9"/><circle cx="1712" cy="3197" r="9"/>
<circle cx="1850" cy="3151" r="9"/><circle cx="1937" cy="3177" r="9"/><circle cx="1978" cy="3197" r="9"/>
</g>
<rect class="bl" x="1699" y="3004" width="57" height="45"/><rect class="bl" x="1965" y="3004" width="58" height="45"/>
<rect class="bl" x="1659" y="3139" width="81" height="46"/><rect class="bl" x="1926" y="3139" width="81" height="46"/>
<path d="M1733,3030 L1747,3046 M1747,3030 L1733,3046" stroke="#c23ad6" stroke-width="1.5"/>
<text x="1995" y="3019" font-size="11" fill="#c23ad6">x</text><text x="1728" y="3181" font-size="11" fill="#c23ad6">x</text>
<text class="n" x="1637" y="3070">(1)</text><text class="n" x="1904" y="3064">(2)</text>
<text class="n" x="1637" y="3223">(3)</text><text class="n" x="1904" y="3223">(4)</text>
<path d="M1740,3004 L1828,3004 M1820,3000 L1828,3004 L1820,3008" stroke="#222" stroke-width="1.3" fill="none"/>
<text x="1760" y="2994" font-size="12" fill="#222">删除加染色</text>
<path d="M1987,3055 C1900,3085 1820,3075 1760,3082 C1730,3090 1715,3110 1706,3135" stroke="#222" stroke-width="1.3" fill="none"/>
<text x="1766" y="3100" font-size="12" fill="#222">递归把x当作删除的黑叶子结点</text>
<path d="M1749,3160 L1828,3160 M1820,3156 L1828,3160 L1820,3164" stroke="#222" stroke-width="1.3" fill="none"/>
<text x="1752" y="3132" font-size="11" fill="#222">直接用(4)的</text><text x="1756" y="3150" font-size="11" fill="#222">染色操作</text>
</g>
<!-- last image -->
<g>
<ellipse cx="1320" cy="3370" rx="22" ry="55" transform="rotate(40 1320 3370)" fill="none" stroke="#e0a040" stroke-width="1.5"/>
<ellipse cx="1528" cy="3376" rx="22" ry="60" transform="rotate(-25 1528 3376)" fill="none" stroke="#e0a040" stroke-width="1.5"/>
<ellipse cx="1706" cy="3376" rx="22" ry="60" transform="rotate(-25 1706 3376)" fill="none" stroke="#e0a040" stroke-width="1.5"/>
<path class="e" d="M1333,3364 L1307,3378 M1355,3365 L1377,3378 M1288,3413 L1278,3430 M1304,3414 L1316,3430 M1500,3367 L1484,3382 M1516,3368 L1538,3383 M1539,3421 L1516,3439 M1555,3421 L1570,3439 M1679,3367 L1658,3382 M1693,3367 L1716,3383 M1718,3421 L1693,3439 M1733,3421 L1746,3439"/>
<circle class="k" cx="1343" cy="3346" r="20"/><text class="n" x="1343" y="3351" font-size="15">25</text>
<circle class="r" cx="1296" cy="3395" r="20"/><text class="nr" x="1296" y="3400" font-size="15">20</text>
<circle class="k" cx="1388" cy="3396" r="20"/><text class="n" x="1388" y="3401" font-size="15">36</text>
<circle class="k" cx="1270" cy="3449" r="20"/><text class="n" x="1270" y="3454" font-size="15">18</text>
<circle class="k" cx="1323" cy="3449" r="20"/><text class="n" x="1323" y="3454" font-size="15">22</text>
<path d="M1372,3380 L1404,3412 M1404,3380 L1372,3412 M1562,3441 L1594,3473 M1594,3441 L1562,3473 M1737,3441 L1769,3473 M1769,3441 L1737,3473" stroke="#2f7a3a" stroke-width="2"/>
<text class="gt" x="1370" y="3325" font-size="14">删36</text>
<text x="1350" y="3440" font-size="14" fill="#2f7a3a">发现兄弟</text><text x="1355" y="3458" font-size="14" fill="#2f7a3a">不是黑</text>
<text x="1438" y="3366" font-size="20" fill="#222">旋转</text>
<text class="ar" x="1418" y="3405">⇒</text>
<circle class="r" cx="1509" cy="3349" r="20"/><text class="nr" x="1509" y="3354" font-size="15">20</text>
<circle class="k" cx="1474" cy="3400" r="20"/><text class="n" x="1474" y="3405" font-size="15">18</text>
<circle class="k" cx="1546" cy="3402" r="20"/><text class="n" x="1546" y="3407" font-size="15">25</text>
<circle class="k" cx="1507" cy="3457" r="20"/><text class="n" x="1507" y="3462" font-size="15">22</text>
<circle class="k" cx="1578" cy="3457" r="20"/><text class="n" x="1578" y="3462" font-size="15">36</text>
<text x="1445" y="3450" font-size="14" fill="#2f7a3a">黑</text><text x="1445" y="3468" font-size="14" fill="#2f7a3a">兄</text><text x="1445" y="3486" font-size="14" fill="#2f7a3a">弟</text>
<text x="1586" y="3384" font-size="18" fill="#222">变色</text>
<text class="ar" x="1594" y="3408">⇒</text>
<circle class="k" cx="1686" cy="3348" r="20"/><text class="n" x="1686" y="3353" font-size="15">20</text>
<circle class="k" cx="1648" cy="3400" r="20"/><text class="n" x="1648" y="3405" font-size="15">18</text>
<circle class="r" cx="1725" cy="3402" r="20"/><text class="nr" x="1725" y="3407" font-size="15">25</text>
<circle class="k" cx="1684" cy="3457" r="20"/><text class="n" x="1684" y="3462" font-size="15">22</text>
<circle class="k" cx="1753" cy="3457" r="20"/><text class="n" x="1753" y="3462" font-size="15">36</text>
</g>
</svg>
</body></html>
